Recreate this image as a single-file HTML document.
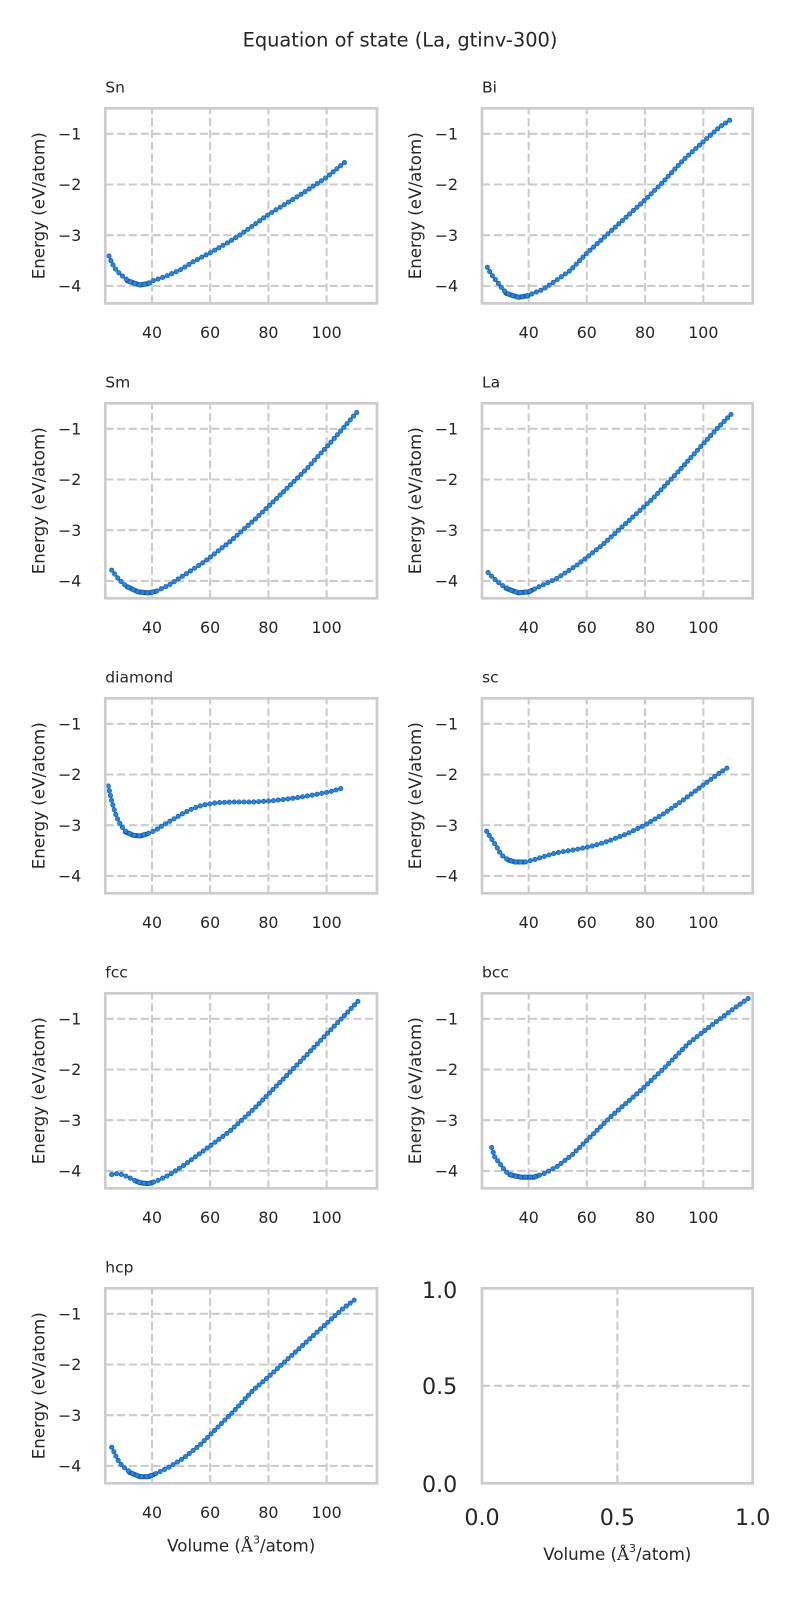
<!DOCTYPE html>
<html><head><meta charset="utf-8"><style>
html,body{margin:0;padding:0;background:#fff;}
svg{display:block;}
text{font-family:"DejaVu Sans","Liberation Sans",sans-serif;fill:#262626;}
.g{stroke:#cccccc;stroke-width:2.1;stroke-dasharray:8.2 3.6;fill:none;}
.f{stroke:#cccccc;stroke-width:2.7;fill:none;}
.yt{font-size:15.8px;text-anchor:end;}
.xt{font-size:15.8px;text-anchor:middle;}
.yl{font-size:16.67px;text-anchor:middle;}
.ti{font-size:15.5px;}
.bd{fill:none;stroke:#1b5c9e;stroke-width:5;stroke-linecap:round;stroke-linejoin:round;}
.d1{fill:none;stroke:#1a5ea8;stroke-width:5.1;stroke-linecap:round;stroke-linejoin:round;stroke-dasharray:0 4.9;}
.d2{fill:none;stroke:#2188e8;stroke-width:3.7;stroke-linecap:round;stroke-linejoin:round;stroke-dasharray:0 4.9;}
</style></head><body>
<svg width="800" height="1600" viewBox="0 0 800 1600" xmlns="http://www.w3.org/2000/svg">
<rect width="800" height="1600" fill="#fff"/>
<text x="400" y="46.7" style="font-size:19.4px" text-anchor="middle">Equation of state (La, gtinv-300)</text>

<!-- Row 1 left: Sn -->
<g transform="translate(105.3,108.3)">
<path class="g" d="M46.7 195V0M104.8 195V0M163.1 195V0M221.3 195V0M0 25.5H271.7M0 76.2H271.7M0 126.9H271.7M0 177.6H271.7"/>
<path class="bd" d="M22 172.5L34.7 176.7L44 175"/>
<path class="d1" d="M3.7 147.7L6.7 155L10.4 161L14 165L19.7 170L26.4 174.4L34.7 176.7L41.4 175.7L48 172.4L61.4 167.7L74.7 161.7L88 153.4L105 144.4L121.4 135L134.7 126.7L163.4 106L194.7 86.7L221.4 69L241.4 52.4"/>
<path class="d2" d="M3.7 147.7L6.7 155L10.4 161L14 165L19.7 170L26.4 174.4L34.7 176.7L41.4 175.7L48 172.4L61.4 167.7L74.7 161.7L88 153.4L105 144.4L121.4 135L134.7 126.7L163.4 106L194.7 86.7L221.4 69L241.4 52.4"/>
<rect class="f" x="0" y="0" width="271.7" height="195"/>
<text class="ti" x="0" y="-16">Sn</text>
<text class="yt" x="-24" y="31.2">−1</text><text class="yt" x="-24" y="81.9">−2</text><text class="yt" x="-24" y="132.6">−3</text><text class="yt" x="-24" y="183.3">−4</text>
<text class="xt" x="46.7" y="229.7">40</text><text class="xt" x="104.8" y="229.7">60</text><text class="xt" x="163.1" y="229.7">80</text><text class="xt" x="221.3" y="229.7">100</text>
<text class="yl" transform="translate(-61,97.5) rotate(-90)" x="0" y="0">Energy (eV/atom)</text>
</g>

<!-- Row 1 right: Bi -->
<g transform="translate(482,108.3)">
<path class="g" d="M46.7 195V0M104.8 195V0M163.1 195V0M221.3 195V0M0 25.5H270.7M0 76.2H270.7M0 126.9H270.7M0 177.6H270.7"/>
<path class="bd" d="M24 185L36.3 189L46 187.5"/>
<path class="d1" d="M5.3 159L8.7 165L12.3 170L16.3 175L21.3 181.7L28 186.7L36.3 189L43 188.3L51.3 185L61.3 181L74.7 171.7L88 162.4L104.7 145L124.7 126.7L144.7 108.3L163 91.7L181.3 73.4L201.3 51.7L221.3 33.4L238 18.4L250.7 10"/>
<path class="d2" d="M5.3 159L8.7 165L12.3 170L16.3 175L21.3 181.7L28 186.7L36.3 189L43 188.3L51.3 185L61.3 181L74.7 171.7L88 162.4L104.7 145L124.7 126.7L144.7 108.3L163 91.7L181.3 73.4L201.3 51.7L221.3 33.4L238 18.4L250.7 10"/>
<rect class="f" x="0" y="0" width="270.7" height="195"/>
<text class="ti" x="0" y="-16">Bi</text>
<text class="yt" x="-24" y="31.2">−1</text><text class="yt" x="-24" y="81.9">−2</text><text class="yt" x="-24" y="132.6">−3</text><text class="yt" x="-24" y="183.3">−4</text>
<text class="xt" x="46.7" y="229.7">40</text><text class="xt" x="104.8" y="229.7">60</text><text class="xt" x="163.1" y="229.7">80</text><text class="xt" x="221.3" y="229.7">100</text>
<text class="yl" transform="translate(-61,97.5) rotate(-90)" x="0" y="0">Energy (eV/atom)</text>
</g>

<!-- Row 2 left: Sm -->
<g transform="translate(105.3,403.3)">
<path class="g" d="M46.7 195V0M104.8 195V0M163.1 195V0M221.3 195V0M0 25.5H271.7M0 76.2H271.7M0 126.9H271.7M0 177.6H271.7"/>
<path class="bd" d="M22 183.5L32.9 188.6L43 189.6L50 188.3"/>
<path class="d1" d="M6.4 166.9L11.5 173.6L17.6 180.3L25.3 185.3L32.9 188.6L43 189.6L50.7 188L63.4 182L78.6 172L98.9 158.6L124.4 138.6L149.8 115.9L175.2 91.4L200.6 66.4L226 38.5L251.4 9.2"/>
<path class="d2" d="M6.4 166.9L11.5 173.6L17.6 180.3L25.3 185.3L32.9 188.6L43 189.6L50.7 188L63.4 182L78.6 172L98.9 158.6L124.4 138.6L149.8 115.9L175.2 91.4L200.6 66.4L226 38.5L251.4 9.2"/>
<rect class="f" x="0" y="0" width="271.7" height="195"/>
<text class="ti" x="0" y="-16">Sm</text>
<text class="yt" x="-24" y="31.2">−1</text><text class="yt" x="-24" y="81.9">−2</text><text class="yt" x="-24" y="132.6">−3</text><text class="yt" x="-24" y="183.3">−4</text>
<text class="xt" x="46.7" y="229.7">40</text><text class="xt" x="104.8" y="229.7">60</text><text class="xt" x="163.1" y="229.7">80</text><text class="xt" x="221.3" y="229.7">100</text>
<text class="yl" transform="translate(-61,97.5) rotate(-90)" x="0" y="0">Energy (eV/atom)</text>
</g>

<!-- Row 2 right: La -->
<g transform="translate(482,403.3)">
<path class="g" d="M46.7 195V0M104.8 195V0M163.1 195V0M221.3 195V0M0 25.5H270.7M0 76.2H270.7M0 126.9H270.7M0 177.6H270.7"/>
<path class="bd" d="M24 185L36.6 189.6L46.7 188.6L50 187"/>
<path class="d1" d="M6.1 169.3L11.2 174.6L18.8 181.3L29 187L36.6 189.6L46.7 188.6L56.8 183.6L74.6 175.3L94.9 161.9L120.2 141.9L145.6 118.6L170.9 95.2L196.3 68.3L221.6 40.2L236.8 23.5L251 9.2"/>
<path class="d2" d="M6.1 169.3L11.2 174.6L18.8 181.3L29 187L36.6 189.6L46.7 188.6L56.8 183.6L74.6 175.3L94.9 161.9L120.2 141.9L145.6 118.6L170.9 95.2L196.3 68.3L221.6 40.2L236.8 23.5L251 9.2"/>
<rect class="f" x="0" y="0" width="270.7" height="195"/>
<text class="ti" x="0" y="-16">La</text>
<text class="yt" x="-24" y="31.2">−1</text><text class="yt" x="-24" y="81.9">−2</text><text class="yt" x="-24" y="132.6">−3</text><text class="yt" x="-24" y="183.3">−4</text>
<text class="xt" x="46.7" y="229.7">40</text><text class="xt" x="104.8" y="229.7">60</text><text class="xt" x="163.1" y="229.7">80</text><text class="xt" x="221.3" y="229.7">100</text>
<text class="yl" transform="translate(-61,97.5) rotate(-90)" x="0" y="0">Energy (eV/atom)</text>
</g>

<!-- Row 3 left: diamond -->
<g transform="translate(105.3,698.3)">
<path class="g" d="M46.7 195V0M104.8 195V0M163.1 195V0M221.3 195V0M0 25.5H271.7M0 76.2H271.7M0 126.9H271.7M0 177.6H271.7"/>
<path class="bd" d="M20 133.5L28 137L34.7 137.7L41 136"/>
<path class="d1" d="M3 87.7L6.4 102.7L10 115L13 122.4L16.4 128.4L21.4 134L28 137L34.7 137.7L41.4 135.7L49.7 132.4L58 126.7L68 121L78 115L88 110L98 106.7L111.4 104.4L128 103.7L148 103.7L168 102.4L188 100L208 96.7L224.7 93.4L240 89"/>
<path class="d2" d="M3 87.7L6.4 102.7L10 115L13 122.4L16.4 128.4L21.4 134L28 137L34.7 137.7L41.4 135.7L49.7 132.4L58 126.7L68 121L78 115L88 110L98 106.7L111.4 104.4L128 103.7L148 103.7L168 102.4L188 100L208 96.7L224.7 93.4L240 89"/>
<rect class="f" x="0" y="0" width="271.7" height="195"/>
<text class="ti" x="0" y="-16">diamond</text>
<text class="yt" x="-24" y="31.2">−1</text><text class="yt" x="-24" y="81.9">−2</text><text class="yt" x="-24" y="132.6">−3</text><text class="yt" x="-24" y="183.3">−4</text>
<text class="xt" x="46.7" y="229.7">40</text><text class="xt" x="104.8" y="229.7">60</text><text class="xt" x="163.1" y="229.7">80</text><text class="xt" x="221.3" y="229.7">100</text>
<text class="yl" transform="translate(-61,97.5) rotate(-90)" x="0" y="0">Energy (eV/atom)</text>
</g>

<!-- Row 3 right: sc -->
<g transform="translate(482,698.3)">
<path class="g" d="M46.7 195V0M104.8 195V0M163.1 195V0M221.3 195V0M0 25.5H270.7M0 76.2H270.7M0 126.9H270.7M0 177.6H270.7"/>
<path class="bd" d="M26.3 161.7L33 163.7L43 163.7"/>
<path class="d1" d="M4.7 133L8 138.4L11.3 143.4L14.7 148.4L17.3 153.4L21.3 158.4L26.3 161.7L33 163.7L43 163.7L51.3 161.7L61.3 158.4L74.7 154.4L91.3 151.7L108 148.4L124.7 143.4L144.7 135.7L163 126.7L181.3 115.7L201.3 101.7L221.3 86.7L234.7 76.7L248 67.7"/>
<path class="d2" d="M4.7 133L8 138.4L11.3 143.4L14.7 148.4L17.3 153.4L21.3 158.4L26.3 161.7L33 163.7L43 163.7L51.3 161.7L61.3 158.4L74.7 154.4L91.3 151.7L108 148.4L124.7 143.4L144.7 135.7L163 126.7L181.3 115.7L201.3 101.7L221.3 86.7L234.7 76.7L248 67.7"/>
<rect class="f" x="0" y="0" width="270.7" height="195"/>
<text class="ti" x="0" y="-16">sc</text>
<text class="yt" x="-24" y="31.2">−1</text><text class="yt" x="-24" y="81.9">−2</text><text class="yt" x="-24" y="132.6">−3</text><text class="yt" x="-24" y="183.3">−4</text>
<text class="xt" x="46.7" y="229.7">40</text><text class="xt" x="104.8" y="229.7">60</text><text class="xt" x="163.1" y="229.7">80</text><text class="xt" x="221.3" y="229.7">100</text>
<text class="yl" transform="translate(-61,97.5) rotate(-90)" x="0" y="0">Energy (eV/atom)</text>
</g>

<!-- Row 4 left: fcc -->
<g transform="translate(105.3,993.3)">
<path class="g" d="M46.7 195V0M104.8 195V0M163.1 195V0M221.3 195V0M0 25.5H271.7M0 76.2H271.7M0 126.9H271.7M0 177.6H271.7"/>
<path class="bd" d="M30 187.6L35.4 189.6L43 190.3L48 188.8"/>
<path class="d1" d="M6.4 181.3L11.5 180.3L16.6 181.3L22.7 183.6L28.8 186.9L35.4 189.6L43 190.3L50.7 188L63.4 182L78.6 172L98.9 157L124.4 138L149.8 114.5L175.2 88.5L200.6 62.5L226 36L252.9 7.8"/>
<path class="d2" d="M6.4 181.3L11.5 180.3L16.6 181.3L22.7 183.6L28.8 186.9L35.4 189.6L43 190.3L50.7 188L63.4 182L78.6 172L98.9 157L124.4 138L149.8 114.5L175.2 88.5L200.6 62.5L226 36L252.9 7.8"/>
<rect class="f" x="0" y="0" width="271.7" height="195"/>
<text class="ti" x="0" y="-16">fcc</text>
<text class="yt" x="-24" y="31.2">−1</text><text class="yt" x="-24" y="81.9">−2</text><text class="yt" x="-24" y="132.6">−3</text><text class="yt" x="-24" y="183.3">−4</text>
<text class="xt" x="46.7" y="229.7">40</text><text class="xt" x="104.8" y="229.7">60</text><text class="xt" x="163.1" y="229.7">80</text><text class="xt" x="221.3" y="229.7">100</text>
<text class="yl" transform="translate(-61,97.5) rotate(-90)" x="0" y="0">Energy (eV/atom)</text>
</g>

<!-- Row 4 right: bcc -->
<g transform="translate(482,993.3)">
<path class="g" d="M46.7 195V0M104.8 195V0M163.1 195V0M221.3 195V0M0 25.5H270.7M0 76.2H270.7M0 126.9H270.7M0 177.6H270.7"/>
<path class="bd" d="M28 181.5L39.1 183.9L51.8 183.9L55 182.8"/>
<path class="d1" d="M9.7 154.3L12.7 163.6L17.8 170.3L23.9 178.6L31.5 182.6L39.1 183.9L51.8 183.9L61.9 180.3L74.6 173.6L89.8 161.9L110.1 141.9L130.4 121.9L155.7 99.9L181.1 75.9L206.4 50.2L231.8 30.2L252 15.2L266.2 5.2"/>
<path class="d2" d="M9.7 154.3L12.7 163.6L17.8 170.3L23.9 178.6L31.5 182.6L39.1 183.9L51.8 183.9L61.9 180.3L74.6 173.6L89.8 161.9L110.1 141.9L130.4 121.9L155.7 99.9L181.1 75.9L206.4 50.2L231.8 30.2L252 15.2L266.2 5.2"/>
<rect class="f" x="0" y="0" width="270.7" height="195"/>
<text class="ti" x="0" y="-16">bcc</text>
<text class="yt" x="-24" y="31.2">−1</text><text class="yt" x="-24" y="81.9">−2</text><text class="yt" x="-24" y="132.6">−3</text><text class="yt" x="-24" y="183.3">−4</text>
<text class="xt" x="46.7" y="229.7">40</text><text class="xt" x="104.8" y="229.7">60</text><text class="xt" x="163.1" y="229.7">80</text><text class="xt" x="221.3" y="229.7">100</text>
<text class="yl" transform="translate(-61,97.5) rotate(-90)" x="0" y="0">Energy (eV/atom)</text>
</g>

<!-- Row 5 left: hcp -->
<g transform="translate(105.3,1288.3)">
<path class="g" d="M46.7 195V0M104.8 195V0M163.1 195V0M221.3 195V0M0 25.5H271.7M0 76.2H271.7M0 126.9H271.7M0 177.6H271.7"/>
<path class="bd" d="M24 184L34.7 188.4L43 188.4L48 186.5"/>
<path class="d1" d="M6.4 159L9.4 165L12 171L15.4 175.7L19.7 180L26.4 185L34.7 188.4L43 188.4L51.4 185L64.7 178.4L78 170L94.7 156.7L111.4 140L128 123.4L148 101.7L163.4 88.4L181.4 71.7L201.4 53.4L221.4 35L238 20L251.4 10"/>
<path class="d2" d="M6.4 159L9.4 165L12 171L15.4 175.7L19.7 180L26.4 185L34.7 188.4L43 188.4L51.4 185L64.7 178.4L78 170L94.7 156.7L111.4 140L128 123.4L148 101.7L163.4 88.4L181.4 71.7L201.4 53.4L221.4 35L238 20L251.4 10"/>
<rect class="f" x="0" y="0" width="271.7" height="195"/>
<text class="ti" x="0" y="-16">hcp</text>
<text class="yt" x="-24" y="31.2">−1</text><text class="yt" x="-24" y="81.9">−2</text><text class="yt" x="-24" y="132.6">−3</text><text class="yt" x="-24" y="183.3">−4</text>
<text class="xt" x="46.7" y="229.7">40</text><text class="xt" x="104.8" y="229.7">60</text><text class="xt" x="163.1" y="229.7">80</text><text class="xt" x="221.3" y="229.7">100</text>
<text class="yl" transform="translate(-61,97.5) rotate(-90)" x="0" y="0">Energy (eV/atom)</text>
<text style="font-size:16.67px" x="135.9" y="263.4" text-anchor="middle">Volume (<tspan font-family="DejaVu Serif">Å</tspan><tspan font-size="11" dy="-8">3</tspan><tspan dy="8">/atom)</tspan></text>
</g>

<!-- Row 5 right: empty -->
<g transform="translate(482,1288.3)">
<path class="g" d="M135.35 195V0M0 97.5H270.7"/>
<rect class="f" x="0" y="0" width="270.7" height="195"/>
<text style="font-size:22.2px" x="-24.7" y="9.8" text-anchor="end">1.0</text>
<text style="font-size:22.2px" x="-24.7" y="105.6" text-anchor="end">0.5</text>
<text style="font-size:22.2px" x="-24.7" y="203.6" text-anchor="end">0.0</text>
<text style="font-size:22.2px" x="0" y="236.7" text-anchor="middle">0.0</text>
<text style="font-size:22.2px" x="135.35" y="236.7" text-anchor="middle">0.5</text>
<text style="font-size:22.2px" x="270.7" y="236.7" text-anchor="middle">1.0</text>
<text style="font-size:16.67px" x="135.3" y="271.7" text-anchor="middle">Volume (<tspan font-family="DejaVu Serif">Å</tspan><tspan font-size="11" dy="-8">3</tspan><tspan dy="8">/atom)</tspan></text>
</g>
</svg>
</body></html>
